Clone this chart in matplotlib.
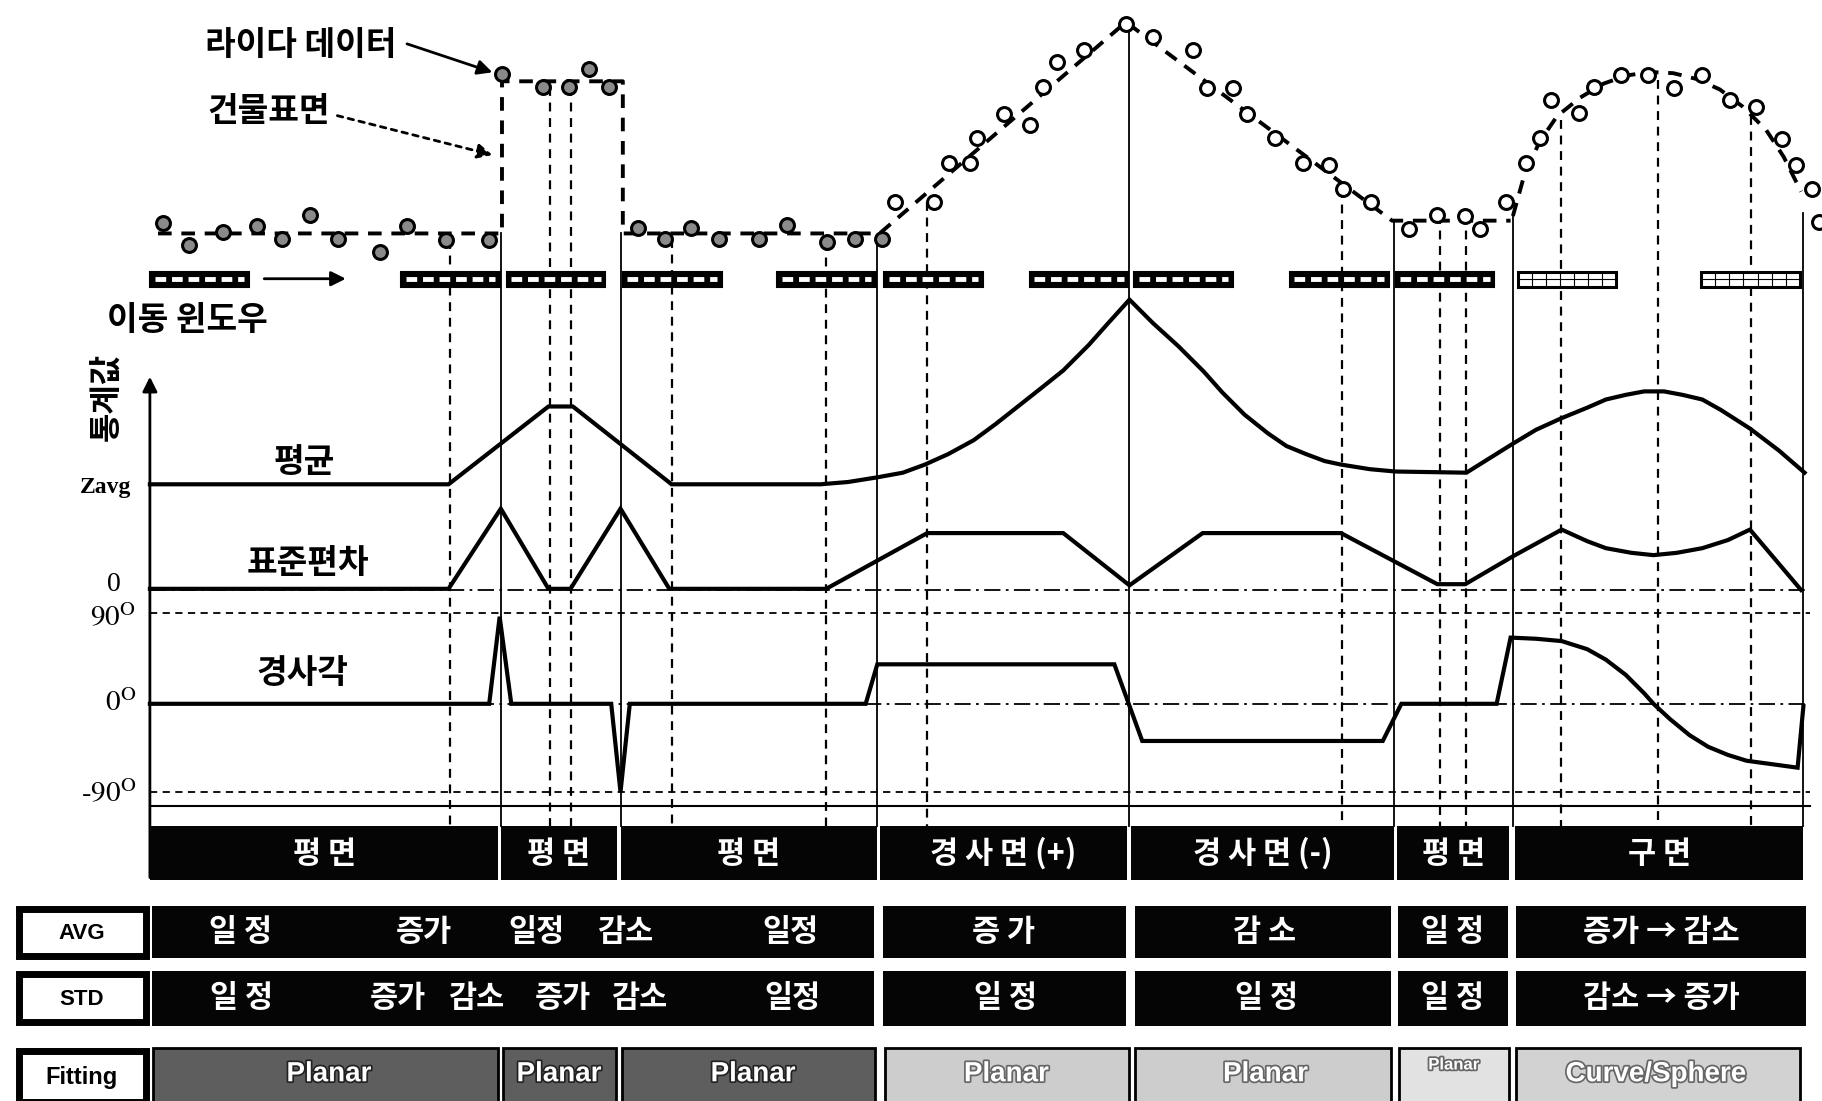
import matplotlib
matplotlib.use("Agg")
import matplotlib.pyplot as plt
from matplotlib.patches import Rectangle
import matplotlib.patheffects as pe

plt.rcParams['font.family'] = ['Noto Sans CJK KR', 'DejaVu Sans']
plt.rcParams['mathtext.fontset'] = 'stix'

# ---------------- data (diagram units, z grows downward) ----------------
# lidar returns
flat1_x = [140, 163, 192, 221, 243, 267, 291, 327, 350, 384, 421]
flat1_z = [192, 211, 200, 195, 206, 185, 206, 217, 195, 207, 207]
roof_x = [432, 467, 490, 507, 524]
roof_z = [64, 75, 75, 59, 75]
flat2_x = [549, 572, 595, 619, 653, 677, 712, 736, 759]
flat2_z = [196, 206, 196, 206, 206, 194, 208, 206, 206]
slope_up_x = [770, 804, 817, 835, 841, 864, 886, 898, 910, 933, 969]
slope_up_z = [174, 174, 140, 140, 119, 98, 108, 75, 53, 43, 21]
slope_dn_x = [992, 1027, 1039, 1061, 1073, 1097, 1121, 1144, 1156, 1180]
slope_dn_z = [32, 43, 76, 76, 98, 119, 140, 142, 163, 174]
flat3_x = [1213, 1237, 1261, 1274]
flat3_z = [197, 185, 186, 197]
sphere_x = [1296, 1313, 1325, 1335, 1359, 1372, 1395, 1418, 1441, 1465, 1489, 1511, 1534, 1546, 1559, 1565]
sphere_z = [174, 140, 119, 86, 97, 75, 65, 65, 76, 65, 86, 92, 120, 142, 163, 191]

# building surface profile
surf_x = [136, 432, 432, 536, 536, 757, 969, 1198, 1300]
surf_z = [201, 201, 70, 70, 201, 201, 19, 190, 190]
dome_x = [1302, 1312, 1325, 1340, 1360, 1380, 1400, 1420, 1440, 1460, 1480, 1500, 1520, 1535, 1550]
dome_z = [186, 150, 122, 100, 84, 72, 65, 62, 63, 68, 77, 92, 112, 135, 165]

# moving windows (left edges)
win_x0 = [129, 345, 436, 536, 669, 761, 886, 976, 1110, 1201, 1306, 1464]
win_light = [False] * 10 + [True, True]
win_w = 85

# statistics curves
mean_x = [129, 386, 472, 493, 578, 706, 730, 755, 777, 796, 816, 838, 857, 876, 895, 915,
          937, 953, 972, 992, 1014, 1036, 1052, 1071, 1091, 1107, 1124, 1140, 1154, 1179,
          1201, 1262, 1302, 1322, 1344, 1366, 1382, 1399, 1415, 1432, 1448, 1465, 1481,
          1506, 1531, 1553]
mean_z = [417, 417, 350, 350, 417, 417, 415, 411, 407, 400, 391, 379, 365, 350, 335, 319,
          297, 279, 258, 278, 298, 320, 338, 357, 373, 384, 391, 397, 400, 404,
          406, 407, 382, 370, 360, 351, 344, 340, 337, 337, 340, 344, 353,
          369, 388, 407]
std_x = [129, 386, 431, 472, 491, 534, 576, 711, 798, 915, 972, 1035, 1154, 1237, 1261,
         1302, 1344, 1366, 1382, 1404, 1423, 1443, 1465, 1487, 1506, 1550]
std_z = [507, 507, 438, 507, 507, 438, 507, 507, 459, 459, 504, 459, 459, 503, 503,
         479, 456, 466, 472, 476, 478, 476, 472, 465, 456, 508]
ang_x = [129, 421, 430, 440, 526, 534, 542, 745, 755, 959, 983, 1190, 1206, 1288, 1300,
         1322, 1344, 1366, 1382, 1399, 1415, 1423, 1437, 1454, 1470, 1487, 1503, 1525,
         1547, 1552]
ang_z = [606, 606, 531, 606, 606, 682, 606, 606, 572, 572, 638, 638, 606, 606, 549,
         550, 552, 559, 568, 581, 597, 606, 619, 633, 643, 650, 655, 658,
         661, 608]

# section boundaries
solid_vx = [431, 534, 755, 972, 1200, 1302, 1552]
solid_vtop = [201, 201, 205, 22, 190, 185, 183]
dash_vx = [387, 473, 491, 578, 711, 798, 1155, 1239, 1262, 1343, 1427, 1507]
dash_vtop = [207, 75, 75, 206, 208, 174, 163, 185, 185, 103, 69, 100]

# classification rows
band_x0 = [129, 431, 534, 757, 973, 1202, 1304]
band_x1 = [429, 531, 755, 970, 1200, 1299, 1552]
band_labels = ['평 면', '평 면', '평 면', '경 사 면 (+)', '경 사 면 (-)', '평 면', '구 면']

row_x0 = [131, 760, 977, 1203, 1305]
row_x1 = [752, 969, 1197, 1298, 1554]
avg_pos = [207, 365, 462, 538, 680, 864, 1088, 1250, 1430]
avg_txt = ['일 정', '증가', '일정', '감소', '일정', '증 가', '감 소', '일 정', '증가 → 감소']
std_pos = [208, 342, 410, 484, 550, 682, 865, 1090, 1250, 1430]
std_txt = ['일 정', '증가', '감소', '증가', '감소', '일정', '일 정', '일 정', '일 정', '감소 → 증가']

fit_x0 = [132, 433, 535, 762, 977, 1204, 1305]
fit_x1 = [429, 530, 753, 972, 1197, 1299, 1549]
fit_col = ['#5e5e5e', '#5e5e5e', '#5e5e5e', '#cdcdcd', '#cdcdcd', '#e2e2e2', '#d2d2d2']
fit_pos = [283, 481, 648, 866, 1089, 1251, 1425]
fit_txt = ['Planar', 'Planar', 'Planar', 'Planar', 'Planar', 'Planar', 'Curve/Sphere']
fit_size = [20, 20, 20, 20, 20, 12, 20]

# ---------------- figure ----------------
fig = plt.figure(figsize=(18.22, 11.01), dpi=100)
ax = fig.add_axes([0, 0, 1, 1])
ax.set_xlim(0, 1568)
ax.set_ylim(948, 0)
ax.axis('off')

K = 'black'
LBL = 24     # annotation labels
CELL = 22    # text inside the black rows

# section boundaries
for x, t in zip(solid_vx, solid_vtop):
    ax.plot([x, x], [t, 711], color=K, lw=1.3, zorder=1)
for x, t in zip(dash_vx, dash_vtop):
    ax.plot([x, x], [t, 711], color=K, lw=1.6, ls=(0, (4, 3)), zorder=1)

# building surface (dashed) and lidar returns
ax.plot(surf_x, surf_z, color=K, lw=2.8, ls=(0, (3.5, 2.5)), zorder=2)
ax.plot(dome_x, dome_z, color=K, lw=2.8, ls=(0, (3.5, 2.5)), zorder=2)
for xs, zs, fc in [(flat1_x, flat1_z, '#8a8a8a'), (roof_x, roof_z, '#8a8a8a'),
                   (flat2_x, flat2_z, '#8a8a8a'), (slope_up_x, slope_up_z, 'white'),
                   (slope_dn_x, slope_dn_z, 'white'), (flat3_x, flat3_z, 'white'),
                   (sphere_x, sphere_z, 'white')]:
    ax.plot(xs, zs, 'o', ms=10, mfc=fc, mec=K, mew=2.2, zorder=4)

# annotations
ax.text(259, 39, '라이다 데이터', ha='center', va='center', fontsize=LBL, fontweight='bold')
ax.annotate('', xy=(426, 63), xytext=(348, 37),
            arrowprops=dict(arrowstyle='-|>', color=K, lw=2, mutation_scale=22))
ax.text(231, 96, '건물표면', ha='center', va='center', fontsize=LBL, fontweight='bold')
ax.annotate('', xy=(426, 134), xytext=(288, 99),
            arrowprops=dict(arrowstyle='-|>', color=K, lw=2, ls=(0, (2, 2)), mutation_scale=22))

# moving windows
for x0, light in zip(win_x0, win_light):
    if light:
        ax.add_patch(Rectangle((x0, 234), win_w, 13, fc='white', ec=K, lw=2.2, zorder=3))
        ax.plot([x0 + 2, x0 + win_w - 2], [240.5, 240.5], color=K, lw=0.8, zorder=3)
        for k in range(1, 7):
            xx = x0 + k * win_w / 7
            ax.plot([xx, xx], [235, 246], color=K, lw=0.8, zorder=3)
    else:
        ax.add_patch(Rectangle((x0, 234), win_w, 13, fc=K, ec=K, lw=1.5, zorder=3))
        ax.plot([x0 + 4, x0 + win_w - 4], [240.5, 240.5], color='white', lw=3.5,
                ls=(0, (2.2, 1.2)), solid_capstyle='butt', zorder=3)
ax.annotate('', xy=(300, 240), xytext=(225, 240),
            arrowprops=dict(arrowstyle='-|>', color=K, lw=2, mutation_scale=22))
ax.text(161, 276, '이동 윈도우', ha='center', va='center', fontsize=LBL, fontweight='bold')

# axis
ax.annotate('', xy=(129, 322), xytext=(129, 758),
            arrowprops=dict(arrowstyle='-|>', color=K, lw=2, mutation_scale=22))
ax.text(92, 342, '통계값', ha='center', va='center', rotation=90, fontsize=23, fontweight='bold')
ax.text(91, 420, 'Zavg', ha='center', va='center', fontsize=17, fontweight='bold',
        family='Liberation Serif')
ax.text(98, 503, '0', ha='center', va='center', fontsize=20, family='Liberation Serif')
ax.text(117, 532, r'$90^{\mathrm{O}}$', ha='right', va='center', fontsize=21)
ax.text(117, 605, r'$0^{\mathrm{O}}$', ha='right', va='center', fontsize=21)
ax.text(117, 684, r'$\text{-}90^{\mathrm{O}}$', ha='right', va='center', fontsize=21)

# reference lines
ax.plot([129, 1558], [508, 508], color=K, lw=1.3, ls=(0, (9, 3, 1.5, 3)), zorder=1)
ax.plot([129, 1558], [528, 528], color=K, lw=1.3, ls=(0, (4, 3)), zorder=1)
ax.plot([129, 1558], [606, 606], color=K, lw=1.3, ls=(0, (9, 3, 1.5, 3)), zorder=1)
ax.plot([129, 1558], [682, 682], color=K, lw=1.3, ls=(0, (4, 3)), zorder=1)
ax.plot([129, 1558], [694, 694], color=K, lw=1.5, zorder=1)

# statistics curves
for xs, zs in [(mean_x, mean_z), (std_x, std_z), (ang_x, ang_z)]:
    ax.plot(xs, zs, color=K, lw=3, solid_joinstyle='miter', zorder=5)
ax.text(262, 398, '평균', ha='center', va='center', fontsize=LBL, fontweight='bold')
ax.text(265, 485, '표준편차', ha='center', va='center', fontsize=LBL, fontweight='bold')
ax.text(260, 580, '경사각', ha='center', va='center', fontsize=LBL, fontweight='bold')

# classification band
for x0, x1, lab in zip(band_x0, band_x1, band_labels):
    ax.add_patch(Rectangle((x0, 711), x1 - x0, 47, fc='#050505', ec='none', zorder=3))
    ax.text((x0 + x1) / 2, 735, lab, ha='center', va='center', color='white',
            fontsize=CELL, fontweight='bold', zorder=4)

# label boxes
for y0, h, lab in [(780, 46, 'AVG'), (836, 47, 'STD'), (902, 50, 'Fitting')]:
    ax.add_patch(Rectangle((16, y0 + 3), 110, h - 6, fc='white', ec=K, lw=5, zorder=3))
    ax.text(70, y0 + h / 2 + 1, lab, ha='center', va='center',
            fontsize=16 if lab != 'Fitting' else 17,
            fontweight='bold', family='Liberation Sans', zorder=4)

# AVG / STD rows
for y0, h, pos, txt in [(780, 45, avg_pos, avg_txt), (836, 47, std_pos, std_txt)]:
    for x0, x1 in zip(row_x0, row_x1):
        ax.add_patch(Rectangle((x0, y0), x1 - x0, h, fc='#050505', ec='none', zorder=3))
    for x, t in zip(pos, txt):
        ax.text(x, y0 + h / 2, t, ha='center', va='center', color='white', fontsize=CELL,
                fontweight='bold', zorder=4)

# fitting row
for x0, x1, c, x, t, fs in zip(fit_x0, fit_x1, fit_col, fit_pos, fit_txt, fit_size):
    ax.add_patch(Rectangle((x0, 902), x1 - x0, 60, fc=c, ec=K, lw=2, zorder=3))
    dark = c == '#5e5e5e'
    ax.text(x, 925 if fs > 12 else 917, t, ha='center', va='center', color='white', fontsize=fs,
            fontweight='bold', family='Liberation Sans', zorder=4,
            path_effects=[pe.withStroke(linewidth=2.5, foreground='#222' if dark else '#666')])

fig.savefig('out.png', dpi=100)
